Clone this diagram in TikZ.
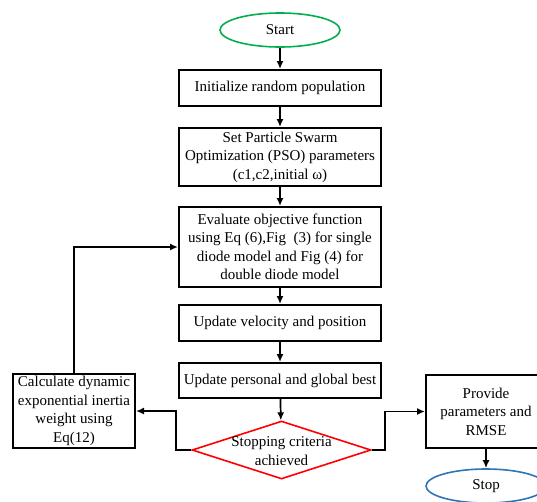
\documentclass[tikz,border=0pt]{standalone}
\usepackage{fontspec}
\setmainfont{Liberation Serif}
\newfontfamily\chartfont{Liberation Serif}
\usetikzlibrary{arrows.meta,shapes.geometric}
\definecolor{startgreen}{RGB}{0,176,80}
\definecolor{stopblue}{RGB}{46,117,182}
\definecolor{critred}{RGB}{255,0,0}
\tikzset{
  every node/.style={font=\chartfont\fontsize{15}{18.5}\selectfont},
  procbox/.style={draw=black, line width=2pt, rectangle, align=center, inner sep=1pt},
  terminal/.style={ellipse, draw, line width=1.6pt, inner sep=0pt, minimum width=120pt, minimum height=34pt},
  decision/.style={diamond, draw=critred, line width=1.6pt, inner sep=0pt, minimum width=179pt, minimum height=58pt},
  flow/.style={line width=1.7pt, -{Latex[length=8pt,width=7pt]}},
}
\begin{document}
\begin{tikzpicture}[x=1pt,y=-1pt]
  \useasboundingbox (0,0) rectangle (537,501);
  \clip (0,0) rectangle (537,501);

  % main column
  \node[terminal, draw=startgreen] (start) at (280,30) {Start};
  \node[procbox, minimum width=202pt, minimum height=36pt] (init) at (280,88) {Initialize random population};
  \node[procbox, minimum width=202pt, minimum height=58pt] (pso) at (280,157)
    {Set Particle Swarm\\Optimization (PSO) parameters\\(c1,c2,initial \char"03C9)};
  \node[procbox, minimum width=202pt, minimum height=80pt] (eval) at (280,247)
    {Evaluate objective function\\using Eq (6),Fig\ \ (3) for single\\diode model and Fig (4) for\\double diode model};
  \node[procbox, minimum width=202pt, minimum height=36pt] (vel) at (280,323) {Update velocity and position};
  \node[procbox, minimum width=202pt, minimum height=35pt] (best) at (280,380.5) {Update personal and global best};
  \node[decision, label={[align=center, yshift=-1pt]center:Stopping criteria\\achieved}] (crit) at (281.5,450) {};

  % side branches
  \node[procbox, minimum width=122pt, minimum height=74pt] (calc) at (74,411)
    {Calculate dynamic\\exponential inertia\\weight using\\Eq(12)};
  \node[procbox, minimum width=120pt, minimum height=73pt] (prov) at (486,411.5)
    {Provide\\parameters and\\RMSE};
  \node[terminal, draw=stopblue] (stop) at (486,486) {Stop};

  % connectors
  \draw[flow] (start) -- (init);
  \draw[flow] (init) -- (pso);
  \draw[flow] (pso) -- (eval);
  \draw[flow] (eval) -- (vel);
  \draw[flow] (vel) -- (best);
  \draw[flow] (best) -- (crit);
  \draw[flow] (crit.west) -- (176,450) -- (176,411) -- (calc.east);
  \draw[flow] (calc.north) -- (74,247) -- (eval.west);
  \draw[flow] (crit.east) -- (385,450) -- (385,411.5) -- (prov.west);
  \draw[flow] (prov) -- (stop);
\end{tikzpicture}
\end{document}
